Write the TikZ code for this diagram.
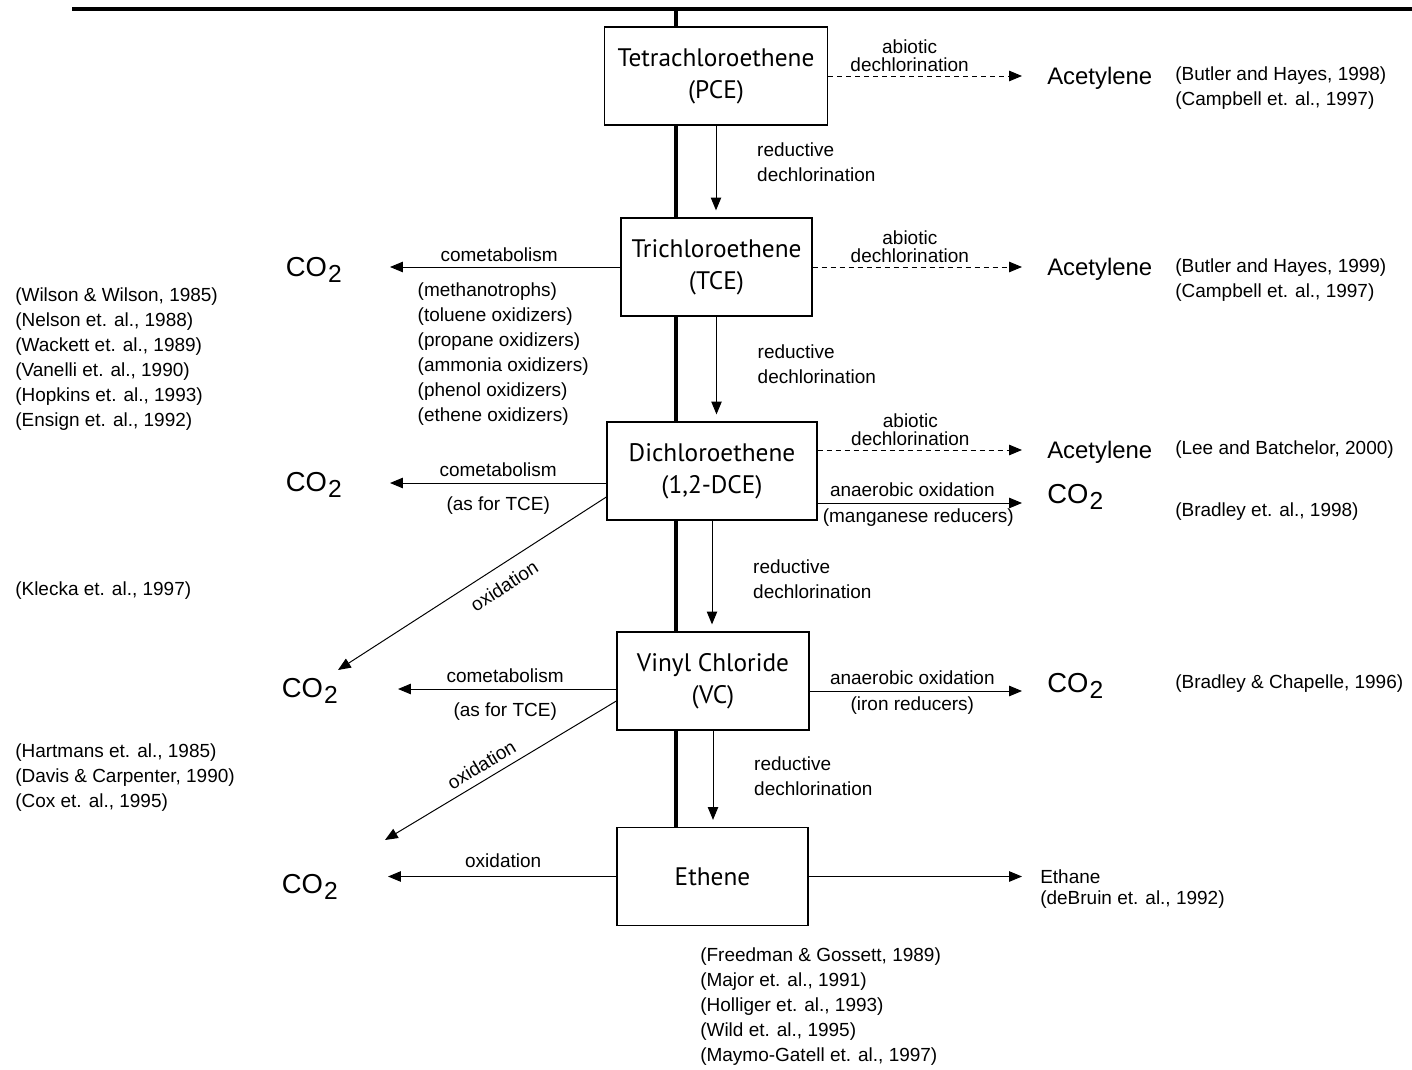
\documentclass[tikz,border=0pt]{standalone}
\usepackage{fontspec}
\setmainfont{Liberation Sans}
\newfontfamily\boxfont{PT Sans}
\usepackage{tikz}
\usetikzlibrary{arrows.meta,positioning,calc,backgrounds}

\newcommand{\cotwo}{{\fontsize{19.5}{20}\selectfont CO\kern0.8pt\raisebox{-3.8pt}{\fontsize{17.5}{17}\selectfont 2}}}
\newcommand{\smallfont}{\fontsize{13.5}{17.8}\selectfont}

\begin{document}
\begin{tikzpicture}[x=0.025cm, y=-0.025cm, >={Triangle[length=3.2mm, width=2.6mm]}, font=\smallfont]
  \tikzstyle{box} = [draw, line width=0.9pt, fill=white, align=center, minimum height=2.45cm, inner sep=2pt, font=\fontsize{18}{22.7}\selectfont\boxfont]
  \tikzstyle{lbl} = [inner sep=2.5pt, text height=9.8pt, text depth=2.9pt]
  \tikzstyle{abio} = [inner sep=2.5pt, align=center, font=\fontsize{13.5}{13}\selectfont]
  \tikzstyle{prod} = [inner sep=0pt, anchor=west, font=\fontsize{17}{20}\selectfont]
  \tikzstyle{refs} = [inner sep=0pt, anchor=west, align=left]
  \tikzstyle{arr} = [->, line width=0.7pt]
  \tikzstyle{abiotic} = [dash pattern=on 1.25mm off 1mm]
  \tikzstyle{spine} = [line width=2.2pt]

  \useasboundingbox (0,0) rectangle (1412,1070);

  % compounds
  \node[box, minimum width=5.575cm] (pce) at (716,76) {Tetrachloroethene\\(PCE)};
  \node[box, minimum width=4.775cm] (tce) at (716.5,267) {Trichloroethene\\(TCE)};
  \node[box, minimum width=5.25cm] (dce) at (712,471) {Dichloroethene\\(1,2-DCE)};
  \node[box, minimum width=4.8cm] (vc) at (713,681) {Vinyl Chloride\\(VC)};
  \node[box, minimum width=4.775cm] (eth) at (712.5,876.5) {Ethene};

  % products on the right
  \node[prod] (acet1) at (1047,78) {Acetylene};
  \node[prod] (acet2) at (1047,269) {Acetylene};
  \node[prod] (acet3) at (1047,452) {Acetylene};
  \node[prod] (co2r1) at (1047,497) {\cotwo};
  \node[prod] (co2r2) at (1047,686) {\cotwo};
  \node[refs] (ethane) at (1040,877) {Ethane};

  % products on the left
  \node[prod, anchor=east] (co2l1) at (342,270) {\cotwo};
  \node[prod, anchor=east] (co2l2) at (342,485) {\cotwo};
  \node[prod, anchor=east] (co2l3) at (338,691) {\cotwo};
  \node[prod, anchor=east] (co2l4) at (338,887) {\cotwo};

  % references
  \node[refs] (refpce) at (1175,88.5) {(Butler and Hayes, 1998)\\(Campbell et. al., 1997)};
  \node[refs] (reftce) at (1175,280.5) {(Butler and Hayes, 1999)\\(Campbell et. al., 1997)};
  \node[refs] (refdce) at (1175,450) {(Lee and Batchelor, 2000)};
  \node[refs] (refman) at (1175,512) {(Bradley et. al., 1998)};
  \node[refs] (refiron) at (1175,684) {(Bradley \& Chapelle, 1996)};
  \node[refs] (refethane) at (1040,900) {(deBruin et. al., 1992)};
  \node[refs] (refcomet) at (15,359.5) {(Wilson \& Wilson, 1985)\\(Nelson et. al., 1988)\\(Wackett et. al., 1989)\\(Vanelli et. al., 1990)\\(Hopkins et. al., 1993)\\(Ensign et. al., 1992)};
  \node[refs] (refklecka) at (15,591) {(Klecka et. al., 1997)};
  \node[refs] (refvcox) at (15,777.5) {(Hartmans et. al., 1985)\\(Davis \& Carpenter, 1990)\\(Cox et. al., 1995)};
  \node[refs] (refreduct) at (700,1007) {(Freedman \& Gossett, 1989)\\(Major et. al., 1991)\\(Holliger et. al., 1993)\\(Wild et. al., 1995)\\(Maymo-Gatell et. al., 1997)};

  % top rule and spine
  \coordinate (topL) at (72,9);
  \coordinate (topR) at (1412,9);
  \coordinate (spinetop) at (676,9);
  \draw[spine] (topL) -- (topR);
  \begin{scope}[on background layer]
    \draw[spine] (spinetop) -- (spinetop |- eth.north);
  \end{scope}

  % reductive dechlorination
  \path[arr, shorten >=1.75mm]
    (pce.south) edge node[pos=0.4, right=9mm, align=left] {reductive\\dechlorination} (pce.south |- tce.north)
    (tce.south) edge node[pos=0.45, right=9mm, align=left] {reductive\\dechlorination} (tce.south |- dce.north)
    (dce.south) edge node[pos=0.53, right=9mm, align=left] {reductive\\dechlorination} (dce.south |- vc.north)
    (vc.south) edge node[pos=0.47, right=9mm, align=left] {reductive\\dechlorination} (vc.south |- eth.north);

  % right side
  \coordinate (dceab) at ($(dce.east)+(0,-21)$);
  \coordinate (dcean) at ($(dce.east)+(0,32)$);
  \coordinate (vcan) at ($(vc.east)+(0,10)$);
  \path[arr, shorten >=6.25mm]
    (pce.east) edge[abiotic] node[abio, above, xshift=-7mm] {abiotic\\dechlorination} (pce.east -| acet1.west)
    (tce.east) edge[abiotic] node[abio, above, xshift=-5mm] {abiotic\\dechlorination} (tce.east -| acet2.west)
    (dceab) edge[abiotic] node[abio, above, xshift=-5.5mm] {abiotic\\dechlorination} (dceab -| acet3.west)
    (dcean) edge node[lbl, above=-1pt, xshift=-5mm] {anaerobic oxidation} node[lbl, below=1.5pt, xshift=-3.5mm] {(manganese reducers)} (dcean -| co2r1.west)
    (vcan) edge node[lbl, above=-1pt, xshift=-4mm] {anaerobic oxidation} node[lbl, below=1.5pt, xshift=-4mm] {(iron reducers)} (vcan -| co2r2.west);
  \draw[arr, shorten >=4.5mm] (eth.east) -- (eth.east -| ethane.west);

  % left side
  \coordinate (dceco) at ($(dce.west)+(0,12)$);
  \coordinate (dceox) at ($(dce.west)+(0,26)$);
  \coordinate (vcco) at ($(vc.west)+(0,8)$);
  \coordinate (vcox) at ($(vc.west)+(0,20)$);
  \coordinate (oxend1) at (338,670);
  \coordinate (oxend2) at (385,840);
  \path[arr]
    (tce.west) edge[shorten >=1.2cm] node[lbl, above=-1.5pt, xshift=4.5mm] {cometabolism}
      node[below=7.5pt, align=left, xshift=5.5mm] {(methanotrophs)\\(toluene oxidizers)\\(propane oxidizers)\\(ammonia oxidizers)\\(phenol oxidizers)\\(ethene oxidizers)} (tce.west -| co2l1.east)
    (dceco) edge[shorten >=1.2cm] node[lbl, above=-1pt, xshift=6mm] {cometabolism} node[lbl, below=6.8pt, xshift=6mm] {(as for TCE)} (dceco -| co2l2.east)
    (vcco) edge[shorten >=1.5cm] node[lbl, above=-1pt, xshift=7mm] {cometabolism} node[lbl, below=6.8pt, xshift=7mm] {(as for TCE)} (vcco -| co2l3.east)
    (eth.west) edge[shorten >=1.25cm] node[lbl, above=0.5pt, xshift=6.5mm] {oxidation} (eth.west -| co2l4.east)
    (dceox) edge node[lbl, pos=0.42, sloped, below=6pt] {oxidation} (oxend1)
    (vcox) edge node[lbl, pos=0.55, sloped, above] {oxidation} (oxend2);
\end{tikzpicture}
\end{document}
